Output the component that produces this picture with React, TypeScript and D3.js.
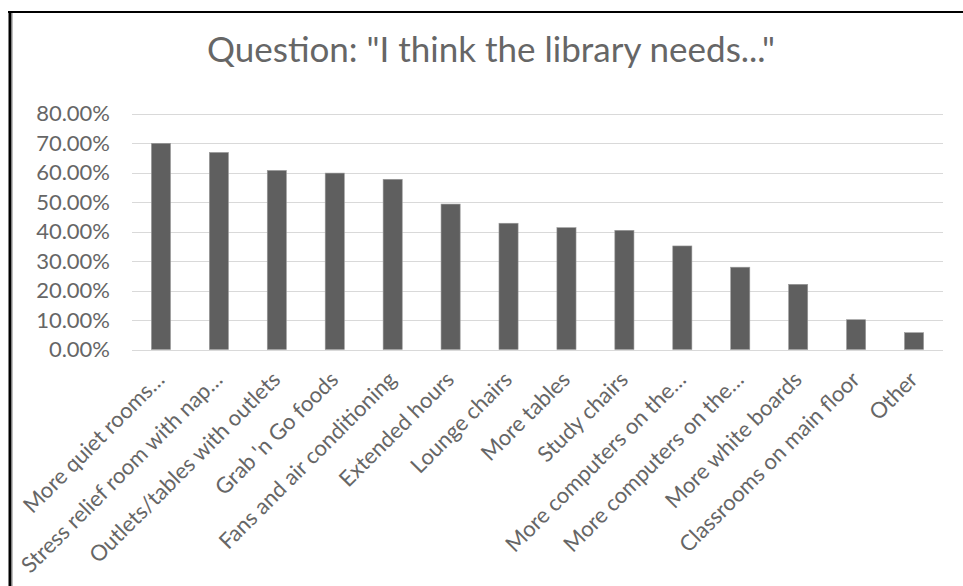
import React, { useEffect, useRef } from "react";
import * as d3 from "d3";

const categories = [
  "More quiet rooms…",
  "Stress relief room with nap…",
  "Outlets/tables with outlets",
  "Grab 'n Go foods",
  "Fans and air conditioning",
  "Extended hours",
  "Lounge chairs",
  "More tables",
  "Study chairs",
  "More computers on the…",
  "More computers on the…",
  "More white boards",
  "Classrooms on main floor",
  "Other",
];
const values = [
  0.699, 0.668, 0.607, 0.598, 0.577, 0.493, 0.428, 0.413, 0.404, 0.351, 0.279,
  0.221, 0.101, 0.057,
];
const yTicks = [0, 0.1, 0.2, 0.3, 0.4, 0.5, 0.6, 0.7, 0.8];
const title = 'Question: "I think the library needs..."';

const App: React.FC = () => {
  const svgRef = useRef(null);

  useEffect(() => {
    const width = 963;
    const height = 586;
    const left = 132;
    const right = 943;
    const top = 113.5;
    const bottom = 349.5;
    const font = "Lato, 'Open Sans', sans-serif";
    const textColor = "#666666";

    const svg = d3.select(svgRef.current);
    svg.selectAll("*").remove();
    svg.attr("width", width).attr("height", height);

    svg.append("rect").attr("width", width).attr("height", height).attr("fill", "#fff");

    // outer frame, only top and left edges show
    svg.append("line").attr("x1", 8).attr("x2", width).attr("y1", 12).attr("y2", 12)
      .attr("stroke", "#000").attr("stroke-width", 2);
    svg.append("line").attr("x1", 10).attr("x2", 10).attr("y1", 11).attr("y2", height)
      .attr("stroke", "#000").attr("stroke-width", 3);
    svg.append("line").attr("x1", 12.5).attr("x2", 12.5).attr("y1", 13).attr("y2", height)
      .attr("stroke", "#bfbfbf").attr("stroke-width", 1);

    const x = d3
      .scaleBand<number>()
      .domain(d3.range(categories.length))
      .range([left, right])
      .paddingInner(0.67)
      .paddingOuter(0.335);

    const y = d3.scaleLinear().domain([0, 0.8]).range([bottom, top]);

    svg
      .append("text")
      .attr("x", 491)
      .attr("y", 62)
      .attr("text-anchor", "middle")
      .style("font-family", font)
      .style("font-size", "35px")
      .style("fill", textColor)
      .text(title);

    const g = svg.append("g");

    g.selectAll("line.grid")
      .data(yTicks)
      .enter()
      .append("line")
      .attr("class", "grid")
      .attr("x1", left)
      .attr("x2", right)
      .attr("y1", (d) => Math.round(y(d)) + 0.5)
      .attr("y2", (d) => Math.round(y(d)) + 0.5)
      .attr("stroke", "#d9d9d9")
      .attr("stroke-width", 1);

    g.selectAll("text.tick")
      .data(yTicks)
      .enter()
      .append("text")
      .attr("class", "tick")
      .attr("x", 110)
      .attr("y", (d) => y(d))
      .attr("dy", "0.35em")
      .attr("text-anchor", "end")
      .style("font-family", font)
      .style("font-size", "22px")
      .style("fill", textColor)
      .text((d) => d3.format(".2%")(d));

    g.selectAll("rect.bar")
      .data(values)
      .enter()
      .append("rect")
      .attr("class", "bar")
      .attr("x", (_, i) => x(i) as number)
      .attr("width", x.bandwidth())
      .attr("y", (d) => y(d))
      .attr("height", (d) => bottom - y(d))
      .attr("fill", "#5f5f5f")
      .attr("stroke", "#9a9a9a")
      .attr("stroke-width", 0.6);

    g.selectAll("text.cat")
      .data(categories)
      .enter()
      .append("text")
      .attr("class", "cat")
      .attr("text-anchor", "end")
      .attr(
        "transform",
        (_, i) =>
          `translate(${(x(i) as number) + x.bandwidth() / 2 + 5},381) rotate(-45)`
      )
      .style("font-family", font)
      .style("font-size", "22px")
      .style("fill", textColor)
      .text((d) => d);
  }, []);

  return (
    <svg
      ref={svgRef}
      style={{ position: "absolute", left: 0, top: 0, display: "block" }}
    />
  );
};

export default App;
